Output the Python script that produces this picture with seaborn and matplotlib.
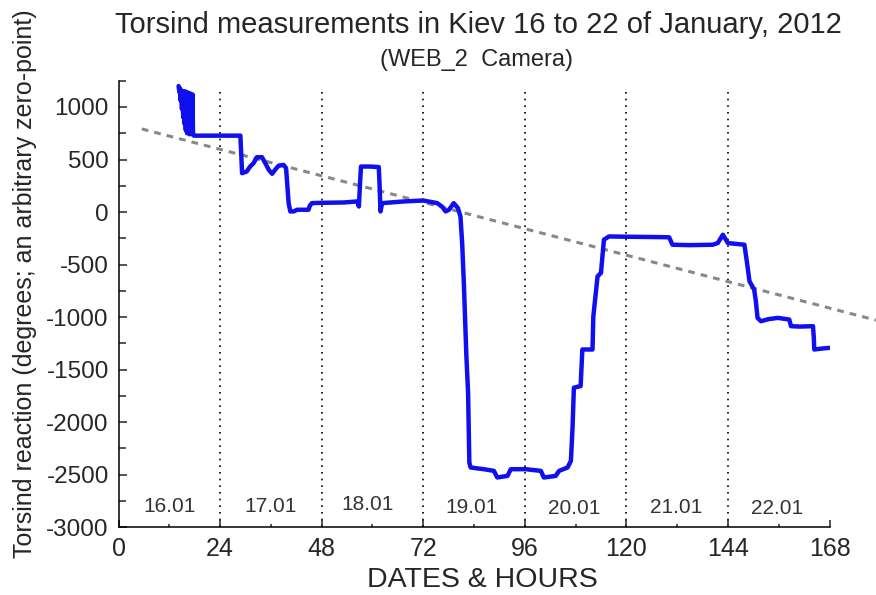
import matplotlib
matplotlib.use("Agg")
import matplotlib.pyplot as plt
from matplotlib.ticker import MultipleLocator
import seaborn as sns

# torsion readings (hours since 16.01 00:00, degrees)
hours = [14.2, 14.4, 14.5, 14.7, 14.8, 15.0, 15.1, 15.3, 15.4, 15.6, 15.7, 15.9, 16.0, 16.2,
         16.3, 16.5, 16.6, 16.8, 16.9, 17.1, 17.2, 17.4, 17.5, 17.6, 17.8,
         24.0, 28.8, 29.0, 29.2, 30.3, 31.1, 31.9, 32.7, 33.9, 34.7, 35.5, 36.3, 37.0,
         37.8, 39.0, 39.6, 39.9, 40.2, 40.6, 41.4, 42.2, 44.9, 45.2, 45.7, 48.0, 53.2, 56.4,
         56.8, 57.1, 57.3, 59.5, 61.5, 61.7, 61.9, 62.3, 67.4, 72.0, 75.3, 76.5, 77.3, 78.1,
         79.2, 80.2, 80.8, 81.2, 81.6, 82.2, 82.6, 82.9, 83.2, 86.3, 88.7, 89.5, 91.9, 92.7,
         96.2, 99.8, 100.5, 103.3, 104.1, 106.1, 106.9, 107.3, 107.6, 109.2, 109.6, 112.0,
         112.2, 113.2, 114.0, 114.7, 115.9, 120.0, 125.0, 130.1, 130.9, 135.0, 140.4, 141.6,
         142.8, 144.0, 147.9, 148.5, 149.1, 150.2, 150.6, 151.0, 151.8, 153.5, 155.8, 158.5,
         158.9, 161.0, 164.1, 164.3, 164.4, 166.0, 168.0]
torsion = [1199, 1140, 1180, 1060, 1160, 980, 1150, 900, 1140, 840, 1150, 780, 1130, 750,
           1140, 760, 1120, 740, 1130, 750, 1110, 760, 1120, 735, 727,
           727, 727, 550, 370, 386, 433, 465, 522, 522, 465, 402, 364, 402,
           440, 449, 418, 250, 85, 6, 6, 22, 22, 60, 85, 88, 91, 101,
           53, 300, 433, 433, 428, 250, 6, 85, 101, 110, 85, 50, 6, 22,
           85, 38, -42, -294, -674, -1371, -1719, -2384, -2431, -2447, -2463, -2526, -2511, -2447,
           -2447, -2463, -2526, -2511, -2463, -2431, -2368, -2036, -1671, -1656, -1308, -1308,
           -991, -612, -579, -263, -232, -235, -237, -240, -311, -315, -311, -295,
           -216, -295, -311, -480, -659, -738, -850, -1007, -1039, -1020, -1007, -1023,
           -1086, -1090, -1086, -1200, -1308, -1300, -1292]

# linear trend (end points, the line runs past the right edge of the axes)
trend_hours = [5.5, 179.0]
trend_values = [791, -1029]

# day separators and labels
day_bounds = [24, 48, 72, 96, 120, 144]
day_labels = ["16.01", "17.01", "18.01", "19.01", "20.01", "21.01", "22.01"]
label_hours = [12.0, 35.9, 58.8, 83.4, 107.6, 131.8, 155.6]
label_levels = [-2803, -2800, -2780, -2815, -2818, -2815, -2818]

x_ticks = [0, 24, 48, 72, 96, 120, 144, 168]
y_ticks = [1000, 500, 0, -500, -1000, -1500, -2000, -2500, -3000]

sns.set_style("ticks")
plt.rcParams["font.family"] = ["Liberation Sans", "DejaVu Sans"]
plt.rcParams["axes.unicode_minus"] = False

fig = plt.figure(figsize=(8.76, 5.95), dpi=100)
ax = fig.add_axes([118.5 / 876, 1 - 527.3 / 595, 711 / 876, 446.6 / 595])

ax.vlines(day_bounds, -3000, 1160, colors="black", linestyles=(0, (1, 3)), linewidth=1.2)
ax.plot(trend_hours, trend_values, color="#888888", linewidth=2.2, dashes=(2.2, 2.0), clip_on=False)
sns.lineplot(x=hours, y=torsion, ax=ax, color="#1010ee", linewidth=3.2, estimator=None, sort=False)

for h, lvl, txt in zip(label_hours, label_levels, day_labels):
    ax.text(h, lvl, txt, ha="center", va="center", fontsize=15, color="#333333")

ax.set_xlim(0, 168)
ax.set_ylim(-3000, 1250)
ax.set_xticks(x_ticks)
ax.set_yticks(y_ticks)
ax.xaxis.set_minor_locator(MultipleLocator(12))
ax.yaxis.set_minor_locator(MultipleLocator(250))
ax.tick_params(axis="x", which="major", direction="in", length=5, width=1.1, labelsize=18, pad=7)
ax.tick_params(axis="x", which="minor", direction="in", length=2.2, width=1.1)
ax.tick_params(axis="y", which="major", direction="in", length=6, width=1.1, labelsize=17.5, pad=7)
ax.tick_params(axis="y", which="minor", direction="in", length=5, width=1.1)
sns.despine(ax=ax)
ax.spines["left"].set_linewidth(1.1)
ax.spines["bottom"].set_linewidth(1.1)
ax.spines["left"].set_color("black")
ax.spines["bottom"].set_color("black")

fig.text(478 / 876, 1 - 25 / 595, "Torsind measurements in Kiev 16 to 22 of January, 2012",
         ha="center", va="center", fontsize=21)
fig.text(476 / 876, 1 - 60 / 595, "(WEB_2  Camera)", ha="center", va="center", fontsize=17)
fig.text(25 / 876, 1 - 284 / 595, "Torsind reaction (degrees; an arbitrary zero-point)",
         rotation=90, ha="center", va="center", fontsize=18)
fig.text(482 / 876, 1 - 580 / 595, "DATES & HOURS", ha="center", va="center", fontsize=20.5)

fig.savefig("out.png", dpi=100)
